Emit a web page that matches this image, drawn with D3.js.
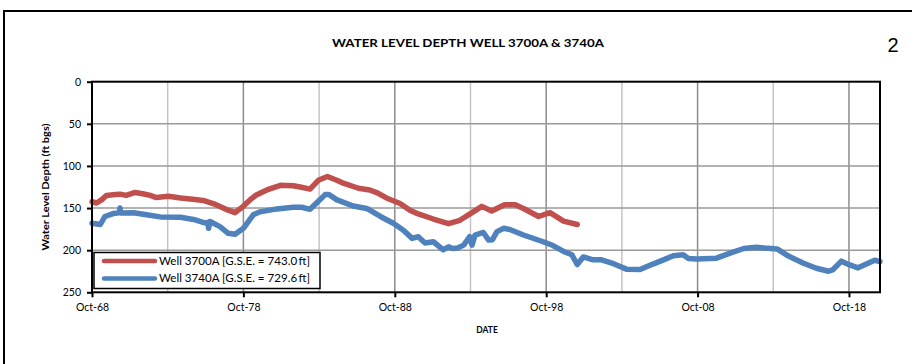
<!DOCTYPE html>
<html><head><meta charset="utf-8">
<script src="https://cdn.jsdelivr.net/npm/d3@7"></script>
<style>
html,body{margin:0;padding:0;background:#fff;}
svg{display:block;font-family:Lato,"Open Sans",sans-serif;}
</style></head>
<body>
<svg id="chart" width="912" height="364"></svg>
<script>
// ---- data (decimal year, depth ft bgs) ----
const tickYears = [1968.75, 1978.75, 1988.75, 1998.75, 2008.75, 2018.75];
const tickLabels = ["Oct-68", "Oct-78", "Oct-88", "Oct-98", "Oct-08", "Oct-18"];
const minorYears = [1973.75, 1983.75, 1993.75, 2003.75, 2013.75];
const yTicks = [0, 50, 100, 150, 200, 250];
const seriesNames = ["Well 3700A [G.S.E. = 743.0\u2009ft]", "Well 3740A [G.S.E. = 729.6\u2009ft]"];

const well3700Years = [1968.75,1969.05,1969.4,1969.7,1970.3,1970.6,1971.0,1971.6,1972.1,1972.6,1973.0,1973.8,1974.6,1975.4,1976.1,1976.8,1977.6,1978.2,1978.7,1979.2,1979.6,1980.3,1981.2,1982.05,1982.5,1983.15,1983.7,1984.3,1985.0,1985.35,1986.35,1987.1,1987.6,1988.2,1989.1,1989.75,1990.3,1991.3,1992.3,1993.05,1993.8,1994.5,1995.15,1996.0,1996.7,1997.25,1998.25,1999.0,1999.9,2000.8];
const well3700Depth = [142.5,144,140,135,134,133.5,135,131.5,133,135,137.5,136,138,139.5,141,145,151.5,155.5,148.5,140,134.5,128.5,123,123.5,125,127.5,117,112.5,117.5,120.5,126.5,128.5,132,138,144.5,152.5,157,163,168.5,164.5,156,148,153.5,146,146,150.5,160,155.5,165.5,169.5];

const well3740Years = [1968.75,1969.3,1969.6,1970.15,1970.55,1970.6,1970.65,1971.5,1972.35,1973.25,1974.6,1975.45,1976.2,1976.4,1976.45,1976.55,1977.2,1977.75,1978.2,1978.75,1979.4,1979.85,1980.95,1982.05,1982.6,1983.15,1983.7,1984.15,1984.4,1984.9,1986.0,1986.9,1987.8,1988.65,1989.3,1989.9,1990.3,1990.75,1991.3,1991.95,1992.3,1992.6,1992.9,1993.3,1993.7,1993.85,1994.05,1994.6,1994.95,1995.2,1995.5,1995.95,1996.35,1997.25,1998.55,1999.2,1999.9,2000.45,2000.8,2001.2,2001.85,2002.4,2003.2,2004.05,2004.95,2005.8,2006.5,2007.15,2007.8,2008.15,2008.7,2010.0,2010.9,2011.8,2012.65,2013.2,2014.0,2014.75,2015.75,2016.6,2017.4,2017.7,2018.25,2018.8,2019.35,2019.9,2020.45,2020.8];
const well3740Depth = [168,169.5,160,156.5,155.5,150,156,155.5,158,160.5,161,163.5,167.5,167,174,166,172,180,181,174,158,154.5,151,149,149,151.5,142,134,134,140,147.5,150.5,160,168,176,186,184,191.5,190,199.5,196,198,197.5,194,184,194,182,179,188,187.5,178,174,175.5,182,190,194.5,201.5,205.5,217,208,211.5,211.5,216,222.5,223,216.5,211.5,206.5,205.5,210,210.5,209.5,203.5,198,196.5,197.5,198.5,207,215.5,221.5,225,223,213,217.5,221,216.5,212,213.5];

const colors = ["#C0504D", "#4F81BD"];

// ---- layout ----
const svg = d3.select("#chart");
const L = 92, R = 880, T = 81.7, B = 292.3;
const x = d3.scaleLinear().domain([1968.75, 2020.8]).range([L, R]);
const y = d3.scaleLinear().domain([0, 250]).range([T, B]);

// outer frame
svg.append("rect").attr("x", 4).attr("y", 11).attr("width", 930).attr("height", 400)
  .attr("fill", "none").attr("stroke", "#000").attr("stroke-width", 2);

// title & page number
svg.append("text").attr("x", 468).attr("y", 47).attr("text-anchor", "middle")
  .attr("font-size", 12).attr("font-weight", "bold")
  .attr("textLength", 272).attr("lengthAdjust", "spacingAndGlyphs")
  .text("WATER LEVEL DEPTH WELL 3700A & 3740A");
svg.append("text").attr("x", 893).attr("y", 52).attr("text-anchor", "middle")
  .attr("font-family", "Liberation Sans, Arial, sans-serif")
  .attr("font-size", 20).text("2");

// gridlines
const g = svg.append("g");
g.selectAll("line.minor").data(minorYears).join("line")
  .attr("x1", d => x(d)).attr("x2", d => x(d)).attr("y1", T).attr("y2", B)
  .attr("stroke", "#c4c4c4").attr("stroke-width", 1.5);
g.selectAll("line.major").data(tickYears.slice(1)).join("line")
  .attr("x1", d => x(d)).attr("x2", d => x(d)).attr("y1", T).attr("y2", B)
  .attr("stroke", "#8c8c8c").attr("stroke-width", 1.5);
g.selectAll("line.h").data(yTicks.slice(1, -1)).join("line")
  .attr("x1", L).attr("x2", R).attr("y1", d => y(d)).attr("y2", d => y(d))
  .attr("stroke", "#9a9a9a").attr("stroke-width", 1.5);

// series lines
const line = d3.line().x(d => x(d[0])).y(d => y(d[1])).curve(d3.curveLinear);
const series = [d3.zip(well3700Years, well3700Depth), d3.zip(well3740Years, well3740Depth)];
[1, 0].forEach(i => {
  svg.append("path").datum(series[i]).attr("d", line).attr("fill", "none")
    .attr("stroke", colors[i]).attr("stroke-width", 5.5)
    .attr("stroke-linejoin", "round").attr("stroke-linecap", "round");
});

// plot frame
svg.append("rect").attr("x", L).attr("y", T).attr("width", R - L).attr("height", B - T)
  .attr("fill", "none").attr("stroke", "#000").attr("stroke-width", 2);

// axes
const yAxis = d3.axisLeft(y).tickValues(yTicks).tickSize(5).tickPadding(6);
const ya = svg.append("g").attr("transform", `translate(${L},0)`).call(yAxis);
ya.select(".domain").remove();
ya.selectAll("line").attr("stroke", "#000").attr("stroke-width", 2);
ya.selectAll("text").attr("font-size", 10.5).attr("font-family", "Lato, sans-serif").attr("fill", "#000");

const xAxis = d3.axisBottom(x).tickValues(tickYears).tickFormat((d, i) => tickLabels[i]).tickSize(5).tickPadding(6);
const xa = svg.append("g").attr("transform", `translate(0,${B})`).call(xAxis);
xa.select(".domain").remove();
xa.selectAll("line").attr("stroke", "#000").attr("stroke-width", 2);
xa.selectAll("text").attr("font-size", 10.5).attr("font-family", "Lato, sans-serif").attr("fill", "#000");

// axis titles
svg.append("text").attr("x", 487).attr("y", 333).attr("text-anchor", "middle")
  .attr("font-size", 8.5).attr("font-weight", "bold").text("DATE");
svg.append("text").attr("transform", "translate(49,187) rotate(-90)").attr("text-anchor", "middle")
  .attr("font-size", 9.5).attr("font-weight", "bold")
  .attr("textLength", 127).attr("lengthAdjust", "spacingAndGlyphs")
  .text("Water Level Depth (ft bgs)");

// legend
const lg = svg.append("g");
lg.append("rect").attr("x", 94).attr("y", 252.5).attr("width", 226).attr("height", 36)
  .attr("fill", "#fff").attr("stroke", "#000").attr("stroke-width", 1.5);
seriesNames.forEach((name, i) => {
  const yy = 261 + i * 17.5;
  lg.append("line").attr("x1", 104).attr("x2", 155).attr("y1", yy).attr("y2", yy)
    .attr("stroke", colors[i]).attr("stroke-width", 4.5).attr("stroke-linecap", "round");
  lg.append("text").attr("x", 159).attr("y", yy + 3.8).attr("font-size", 11)
    .attr("textLength", 151).attr("lengthAdjust", "spacingAndGlyphs").text(name);
});
</script>
</body></html>
